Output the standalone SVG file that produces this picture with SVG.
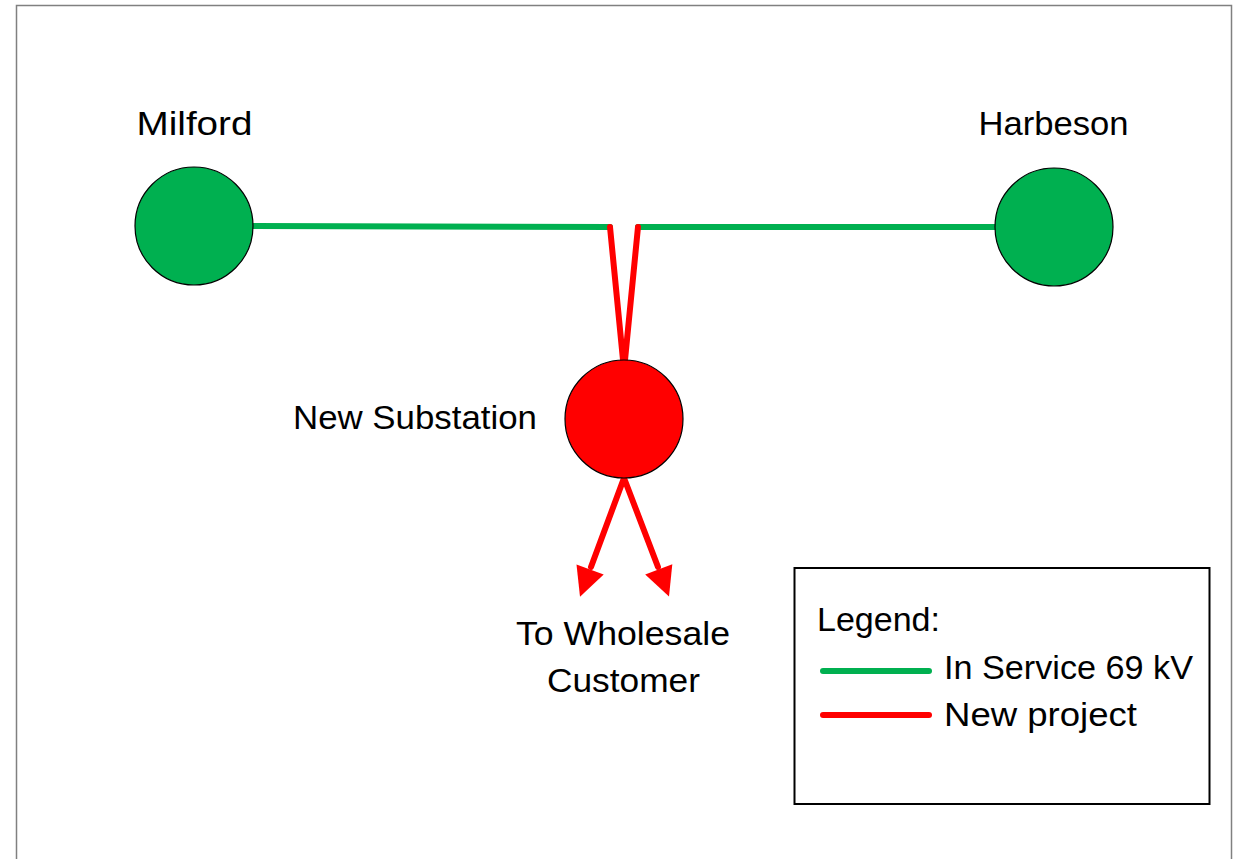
<svg xmlns="http://www.w3.org/2000/svg" width="1235" height="859" viewBox="0 0 1235 859">
<style>
text{font-family:"Liberation Sans",Arial,sans-serif;font-size:34px;fill:#000}
.g{stroke:#00b050;stroke-width:6;fill:none;stroke-linecap:round}
.r{stroke:#ff0000;stroke-width:6;fill:none;stroke-linecap:round}
.head{fill:#ff0000;stroke:none}
.node{stroke:#000;stroke-width:1.2}
</style>
<rect x="0" y="0" width="1235" height="859" fill="#fff"/>
<rect x="16.5" y="5.5" width="1215" height="900" fill="none" stroke="#808080" stroke-width="1.5"/>
<g id="connectors">
<line class="g" x1="253" y1="226" x2="610" y2="227"/>
<line class="g" x1="638" y1="227" x2="995" y2="227"/>
<line class="r" x1="610" y1="227" x2="623" y2="360"/>
<line class="r" x1="638" y1="227" x2="625" y2="360"/>
<line class="r" x1="624" y1="478" x2="591" y2="567" stroke-linecap="butt"/>
<polygon class="head" points="580,596.7 576.5,564.5 603.7,574.5"/>
<line class="r" x1="624" y1="478" x2="658" y2="567" stroke-linecap="butt"/>
<polygon class="head" points="669,596.5 645.2,574.5 672.3,564.3"/>
</g>
<g id="milford">
<circle class="node" cx="194" cy="226" r="59" fill="#00b050"/>
<text x="136.5" y="135" textLength="116" lengthAdjust="spacingAndGlyphs">Milford</text>
</g>
<g id="harbeson">
<circle class="node" cx="1054" cy="227" r="59" fill="#00b050"/>
<text x="978.5" y="135" textLength="150" lengthAdjust="spacingAndGlyphs">Harbeson</text>
</g>
<g id="new-substation">
<circle class="node" cx="624" cy="419" r="59" fill="#ff0000"/>
<text x="293" y="429" textLength="244" lengthAdjust="spacingAndGlyphs">New Substation</text>
</g>
<g id="wholesale-label">
<text x="516" y="645" textLength="214" lengthAdjust="spacingAndGlyphs">To Wholesale</text>
<text x="547" y="692" textLength="153" lengthAdjust="spacingAndGlyphs">Customer</text>
</g>
<g id="legend">
<rect x="794.5" y="568" width="415" height="236" fill="none" stroke="#000" stroke-width="2"/>
<text x="817" y="631" textLength="123" lengthAdjust="spacingAndGlyphs">Legend:</text>
<line class="g" x1="823" y1="671" x2="929" y2="671"/>
<text x="944" y="679" textLength="249" lengthAdjust="spacingAndGlyphs">In Service 69 kV</text>
<line class="r" x1="823" y1="715" x2="929" y2="715"/>
<text x="944" y="725.5" textLength="193" lengthAdjust="spacingAndGlyphs">New project</text>
</g>
</svg>
